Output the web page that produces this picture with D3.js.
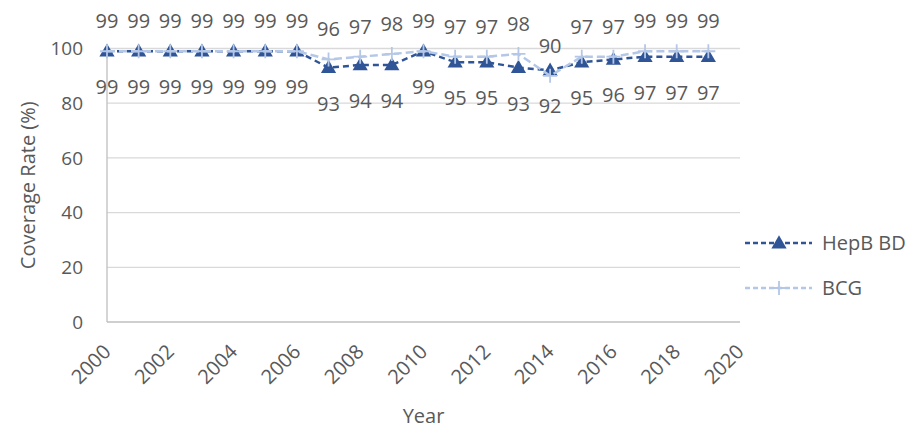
<!DOCTYPE html>
<html>
<head>
<meta charset="utf-8">
<script src="https://cdn.jsdelivr.net/npm/d3@7"></script>
<style>
  body { margin: 0; background: #fff; }
  svg text { font-family: "Open Sans", "Liberation Sans", sans-serif; fill: #595959; }
</style>
</head>
<body>
<div id="chart"></div>
<script>
// data
const years = [2000, 2001, 2002, 2003, 2004, 2005, 2006, 2007, 2008, 2009,
               2010, 2011, 2012, 2013, 2014, 2015, 2016, 2017, 2018, 2019];
const hepbValues = [99, 99, 99, 99, 99, 99, 99, 93, 94, 94,
                    99, 95, 95, 93, 92, 95, 96, 97, 97, 97];
const bcgValues = [99, 99, 99, 99, 99, 99, 99, 96, 97, 98,
                   99, 97, 97, 98, 90, 97, 97, 99, 99, 99];
const xTicks = [2000, 2002, 2004, 2006, 2008, 2010, 2012, 2014, 2016, 2018, 2020];
const yTicks = [0, 20, 40, 60, 80, 100];

const width = 908, height = 431;
const plot = { left: 107, right: 740, top: 48.5, bottom: 322 };

const svg = d3.select('#chart')
  .append('svg')
  .attr('width', width)
  .attr('height', height);

const x = d3.scaleLinear().domain([2000, 2020]).range([plot.left, plot.right]);
const y = d3.scaleLinear().domain([0, 100]).range([plot.bottom, plot.top]);

// gridlines
svg.append('g')
  .selectAll('line')
  .data(yTicks.filter(d => d > 0))
  .join('line')
  .attr('x1', plot.left)
  .attr('x2', plot.right)
  .attr('y1', d => y(d))
  .attr('y2', d => y(d))
  .attr('stroke', '#d9d9d9')
  .attr('stroke-width', 1.3);

// axes lines
svg.append('line')
  .attr('x1', plot.left).attr('x2', plot.right)
  .attr('y1', plot.bottom).attr('y2', plot.bottom)
  .attr('stroke', '#bfbfbf').attr('stroke-width', 1.3);
svg.append('line')
  .attr('x1', plot.left).attr('x2', plot.left)
  .attr('y1', plot.top).attr('y2', plot.bottom)
  .attr('stroke', '#bfbfbf').attr('stroke-width', 1.3);

// y tick labels
svg.append('g')
  .selectAll('text')
  .data(yTicks)
  .join('text')
  .attr('x', 83)
  .attr('y', d => y(d))
  .attr('dy', '0.35em')
  .attr('text-anchor', 'end')
  .style('font-size', '19px')
  .text(d => d);

// x tick labels, rotated
svg.append('g')
  .selectAll('text')
  .data(xTicks)
  .join('text')
  .attr('text-anchor', 'end')
  .attr('transform', d => `translate(${x(d) + 5},${plot.bottom + 31}) rotate(-45)`)
  .style('font-size', '20px')
  .text(d => d);

// axis titles
svg.append('text')
  .attr('transform', `translate(35,${(plot.top + plot.bottom) / 2}) rotate(-90)`)
  .attr('text-anchor', 'middle')
  .style('font-size', '20px')
  .text('Coverage Rate (%)');

svg.append('text')
  .attr('x', (plot.left + plot.right) / 2)
  .attr('y', 423)
  .attr('text-anchor', 'middle')
  .style('font-size', '20px')
  .text('Year');

const series = [
  { name: 'HepB BD', values: hepbValues, color: '#2f5597', dash: '6,4', marker: 'triangle', labelDy: 43 },
  { name: 'BCG', values: bcgValues, color: '#b4c7e7', dash: '8,4', marker: 'cross', labelDy: -23 }
];

const line = d3.line()
  .x((d, i) => x(years[i]))
  .y(d => y(d));

const triangle = d3.symbol().type(d3.symbolTriangle).size(100);

function drawMarker(g, s, cx, cy) {
  if (s.marker === 'triangle') {
    g.append('path')
      .attr('d', triangle())
      .attr('transform', `translate(${cx},${cy + 1})`)
      .attr('fill', s.color);
  } else {
    g.append('path')
      .attr('d', `M${cx - 7},${cy}H${cx + 7}M${cx},${cy - 7}V${cy + 7}`)
      .attr('stroke', s.color)
      .attr('stroke-width', 1.8);
  }
}

series.forEach(s => {
  const g = svg.append('g');
  g.append('path')
    .datum(s.values)
    .attr('d', line)
    .attr('fill', 'none')
    .attr('stroke', s.color)
    .attr('stroke-width', 2.5)
    .attr('stroke-dasharray', s.dash);
  s.values.forEach((v, i) => drawMarker(g, s, x(years[i]), y(v)));
});

// data labels
series.forEach(s => {
  svg.append('g')
    .selectAll('text')
    .data(s.values)
    .join('text')
    .attr('x', (d, i) => x(years[i]))
    .attr('y', d => y(d) + s.labelDy)
    .attr('text-anchor', 'middle')
    .style('font-size', '20px')
    .text(d => d);
});

// legend
const legend = svg.append('g');
series.forEach((s, i) => {
  const ly = 243 + i * 45;
  legend.append('line')
    .attr('x1', 745).attr('x2', 812)
    .attr('y1', ly).attr('y2', ly)
    .attr('stroke', s.color)
    .attr('stroke-width', 2.5)
    .attr('stroke-dasharray', '5,3');
  drawMarker(legend, s, 779, ly);
  legend.append('text')
    .attr('x', 822)
    .attr('y', ly)
    .attr('dy', '0.35em')
    .style('font-size', '20px')
    .text(s.name);
});
</script>
</body>
</html>
